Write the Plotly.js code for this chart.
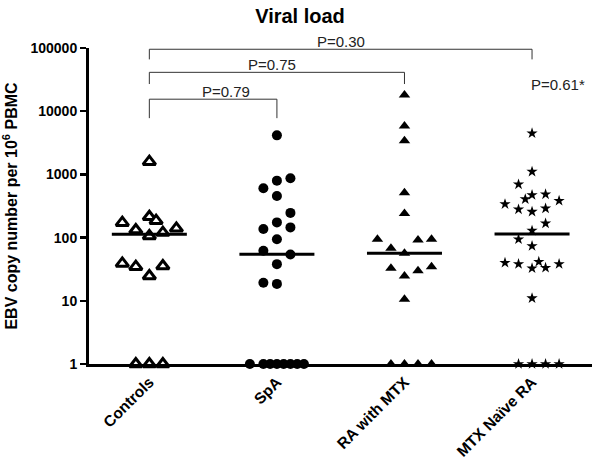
<!DOCTYPE html>
<html>
<head>
<meta charset="utf-8">
<script src="https://cdn.plot.ly/plotly-3.0.1.min.js"></script>
<style>html,body{margin:0;padding:0;background:#fff;}#chart{width:600px;height:468px;}</style>
</head>
<body>
<div id="chart"></div>
<script>
// Categories
const categories = ["Controls", "SpA", "RA with MTX", "MTX Naïve RA"];

// Values (EBV copies per 10^6 PBMC) and horizontal slot of each point within its column
const controlsValues = [1590, 172, 214, 185, 132, 106, 120, 140, 39, 34.7, 24.7, 35.5, 1, 1, 1];
const controlsSlots  = [0, -2, 0, 0.5, -1, 0, 1, 2, -2, -1, 0, 1, -1, 0, 1];

const spaValues = [4150, 602, 796, 867, 455, 246, 137, 174, 145, 94, 62, 54, 38, 19.3, 18.5, 1, 1, 1, 1, 1, 1, 1, 1];
const spaSlots  = [0, -1, 0, 1, 0, 1, -1, 0, 1, 0, -1, 1, 0, -1, 0, -2, -1, -0.5, 0, 0.5, 1, 1.5, 2];

const raMtxValues = [18000, 5840, 3410, 513, 241, 94, 67.7, 56.4, 91.8, 94, 32.6, 24.7, 29.9, 34.6, 10.6, 1, 1, 1, 1];
const raMtxSlots  = [0, 0, 0, 0, 0, -2, -1, 0, 1, 2, -1, 0, 1, 2, 0, -1, 0, 1, 2];

const naiveValues = [4470, 1105, 696, 406, 472, 484, 382, 339, 280, 257, 290, 168, 129, 94, 73.6, 40, 38.2, 32.7, 41.5, 33.3, 38.2, 11, 1, 1, 1, 1];
const naiveSlots  = [0, 0, -1, -0.5, 0, 1, 2, -2, -1, 0, 1, 1, 0, -1, 0, -2, -1, 0, 0.5, 1, 2, 0, -1, 0, 1, 2];

// Medians
const medians = [113, 54.4, 56.4, 114];

// Comparisons: [from category, to category, label]
const comparisons = [
  [0, 1, "P=0.79"],
  [0, 2, "P=0.75"],
  [0, 3, "P=0.30"]
];
const naiveLabel = "P=0.61*";

const yTickVals = [1, 10, 100, 1000, 10000, 100000];
const yTickText = ["1", "10", "100", "1000", "10000", "100000"];

const SLOT = 0.106;
const HALF = 0.294;
const FONT = "Liberation Sans, Arial, sans-serif";

function xs(ci, slots) { return slots.map(s => ci + s * SLOT); }

const traces = [];
traces.push({x: xs(0, controlsSlots), y: controlsValues, type: 'scatter', mode: 'markers', cliponaxis: false,
  marker: {symbol: 'triangle-up', size: 11, color: '#ffffff', line: {color: '#000', width: 3}}, hoverinfo: 'y'});
traces.push({x: xs(1, spaSlots), y: spaValues, type: 'scatter', mode: 'markers', cliponaxis: false,
  marker: {symbol: 'circle', size: 10, color: '#000', line: {width: 0}}, hoverinfo: 'y'});
traces.push({x: xs(2, raMtxSlots), y: raMtxValues, type: 'scatter', mode: 'markers', cliponaxis: false,
  marker: {symbol: 'triangle-up', size: 10, color: '#000', line: {width: 0}}, hoverinfo: 'y'});
traces.push({x: xs(3, naiveSlots), y: naiveValues, type: 'scatter', mode: 'markers', cliponaxis: false,
  marker: {symbol: 'star', size: 8.5, color: '#000', line: {width: 0}}, hoverinfo: 'y'});

// median lines
medians.forEach((m, i) => {
  traces.push({x: [i - HALF, i + HALF], y: [m, m], type: 'scatter', mode: 'lines', cliponaxis: false,
    line: {color: '#000', width: 3}, hoverinfo: 'skip'});
});

// brackets (heights in log10 units)
const bracketTop = [4.19, 4.615, 4.98];
const bracketEnd = [3.89, 4.43, 4.82];
const annotations = [];
comparisons.forEach((c, k) => {
  const h = Math.pow(10, bracketTop[k]), e = Math.pow(10, bracketEnd[k]);
  traces.push({x: [c[0], c[0], c[1], c[1]], y: [e, h, h, e], type: 'scatter', mode: 'lines', cliponaxis: false,
    line: {color: '#333', width: 1}, hoverinfo: 'skip'});
});
const labelX = [0.6, 0.96, 1.5];
comparisons.forEach((c, k) => {
  annotations.push({x: labelX[k], y: bracketTop[k], xref: 'x', yref: 'y', text: c[2], showarrow: false,
    xanchor: 'center', yanchor: 'bottom', yshift: -3, font: {family: FONT, size: 15, color: '#222'}});
});
annotations.push({x: 3, y: 4.43, xref: 'x', yref: 'y', text: naiveLabel, showarrow: false,
  xanchor: 'left', yanchor: 'middle', xshift: -3, font: {family: FONT, size: 15, color: '#222'}});

const layout = {
  width: 600, height: 468,
  margin: {l: 89, r: 8, t: 48, b: 104},
  paper_bgcolor: '#fff', plot_bgcolor: '#fff',
  showlegend: false,
  title: {text: '<b>Viral load</b>', font: {family: FONT, size: 20, color: '#000'},
    x: 0.5, xref: 'container', y: 0.966, yref: 'container', yanchor: 'middle'},
  xaxis: {range: [-0.473, 3.47], tickvals: [0, 1, 2, 3], ticktext: categories, tickangle: -45,
    showgrid: false, zeroline: false, showline: true, linecolor: '#000', linewidth: 3,
    ticks: '', tickfont: {family: FONT, size: 15.5, color: '#000', weight: 'bold'}},
  yaxis: {type: 'log', range: [0, 5], tickvals: yTickVals, ticktext: yTickText,
    showgrid: false, zeroline: false, showline: true, linecolor: '#000', linewidth: 3,
    ticks: 'outside', ticklen: 6, tickwidth: 2.5, tickcolor: '#000',
    tickfont: {family: FONT, size: 14, color: '#000', weight: 'bold'},
    title: {text: '<b>EBV copy number per 10<sup>6</sup> PBMC</b>', font: {family: FONT, size: 16, color: '#000'}, standoff: 10}},
  annotations: annotations
};

Plotly.newPlot('chart', traces, layout, {displayModeBar: false, staticPlot: true});
</script>
</body>
</html>
